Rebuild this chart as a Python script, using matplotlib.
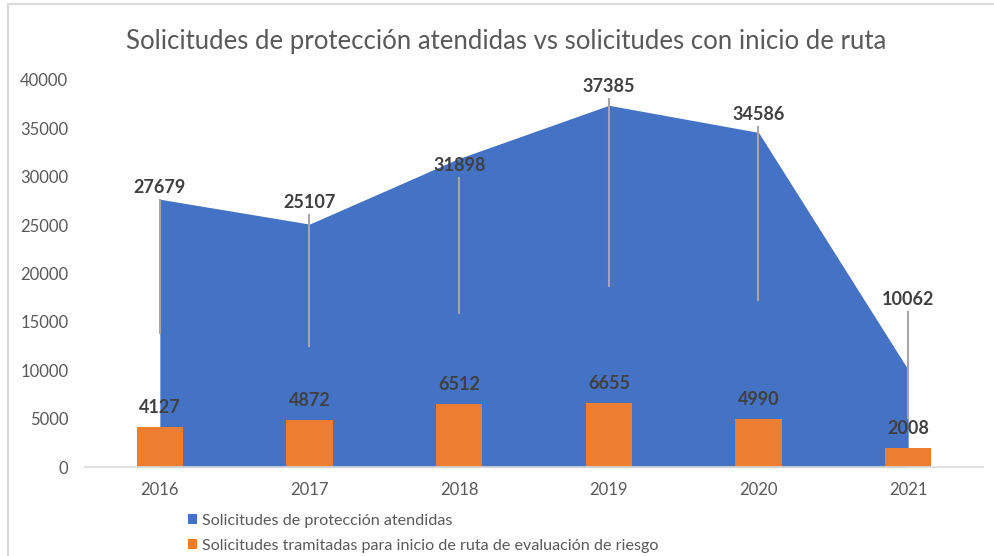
import matplotlib
matplotlib.use("Agg")
import matplotlib.pyplot as plt

# Data
years = ["2016", "2017", "2018", "2019", "2020", "2021"]
atendidas = [27679, 25107, 31898, 37385, 34586, 10062]
tramitadas = [4127, 4872, 6512, 6655, 4990, 2008]

# Where the (manually moved) area labels sit, in data units
area_label_y = [28900, 27300, 31200, 39300, 36400, 17300]

BLUE = "#4472C4"
ORANGE = "#ED7D31"
GRAY_TXT = "#595959"
LABEL_TXT = "#404040"
LINE_GRAY = "#D9D9D9"

plt.rcParams["font.family"] = ["Lato", "DejaVu Sans"]

fig = plt.figure(figsize=(9.95, 5.56), dpi=100)
W, H = 995, 556

# chart frame (left + top border, cut by the image edge)
fig.add_artist(plt.Line2D([8 / W, 8 / W], [0, 1 - 4 / H], color=LINE_GRAY,
                          lw=1.5, transform=fig.transFigure))
fig.add_artist(plt.Line2D([8 / W, 1], [1 - 4 / H, 1 - 4 / H], color=LINE_GRAY,
                          lw=1.5, transform=fig.transFigure))

ax = fig.add_axes([85 / W, 1 - 467 / H, 898 / W, 387 / H])
x = list(range(len(years)))

ax.fill_between(x, 0, atendidas, color=BLUE, lw=0, zorder=1,
                label="Solicitudes de protección atendidas")
ax.bar(x, tramitadas, width=0.31, color=ORANGE, zorder=3,
       label="Solicitudes tramitadas para inicio de ruta de evaluación de riesgo")

ax.set_xlim(-0.5, len(years) - 0.5)
ax.set_ylim(0, 40000)
ax.set_yticks(range(0, 40001, 5000))
ax.set_xticks(x)
ax.set_xticklabels(years)
ax.tick_params(axis="both", length=0, labelsize=12, colors=GRAY_TXT)
ax.tick_params(axis="y", pad=12)
ax.tick_params(axis="x", pad=11)
for side in ("top", "right", "left"):
    ax.spines[side].set_visible(False)
ax.spines["bottom"].set_color(LINE_GRAY)
ax.spines["bottom"].set_linewidth(1.2)
ax.spines["bottom"].set_zorder(4)

# area labels with leader lines down to the middle of the area
px = 40000 / 387
for xi, v, ly in zip(x, atendidas, area_label_y):
    ax.text(xi, ly, str(v), ha="center", va="center", fontsize=13,
            fontweight="bold", color=LABEL_TXT, zorder=5)
    ax.plot([xi, xi], [ly - 12.5 * px, v / 2], color="#A6A6A6", lw=1.5,
            zorder=2)

# bar labels
for xi, v in zip(x, tramitadas):
    ax.annotate(str(v), (xi, v), xytext=(0, 14), textcoords="offset points",
                ha="center", va="center", fontsize=13, fontweight="bold",
                color=LABEL_TXT, zorder=5)

fig.text(506 / W, 1 - 42 / H,
         "Solicitudes de protección atendidas vs solicitudes con inicio de ruta",
         ha="center", va="center", fontsize=18.5, color=GRAY_TXT)

leg = fig.legend(loc="upper left", bbox_to_anchor=(188 / W, 1 - 514 / H),
                 frameon=False, fontsize=11.6, handlelength=0.55,
                 handleheight=0.55, handletextpad=0.35, labelspacing=0.68,
                 borderaxespad=0, borderpad=0)
for t in leg.get_texts():
    t.set_color(GRAY_TXT)

fig.savefig("out.png", dpi=100)
